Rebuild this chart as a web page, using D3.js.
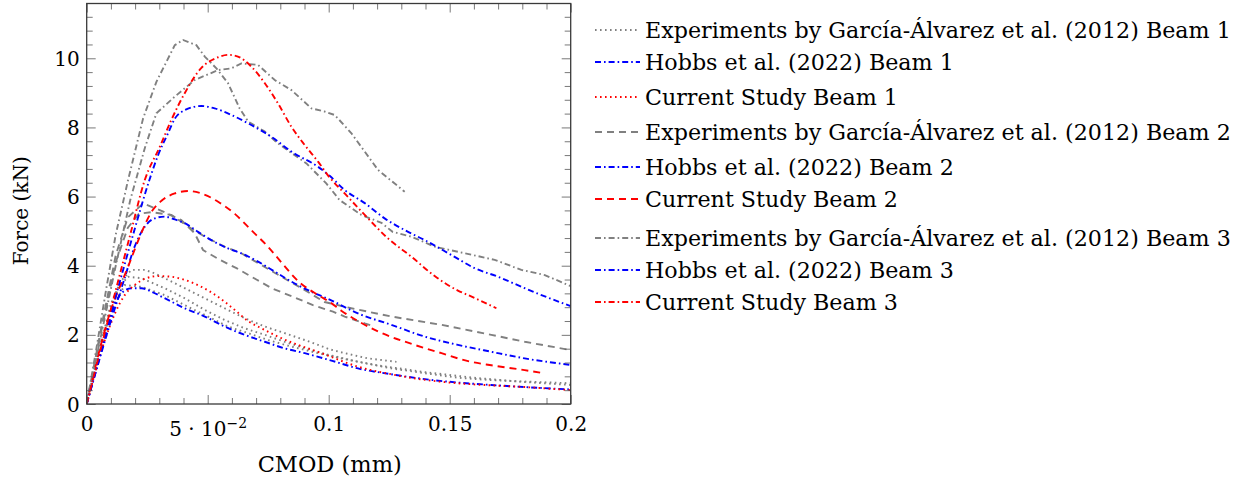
<!DOCTYPE html>
<html><head><meta charset="utf-8">
<script src="https://cdn.jsdelivr.net/npm/d3@7"></script>
<style>
body{margin:0;background:#fff}
svg{display:block}
text{font-family:"DejaVu Serif",serif;fill:#000}
</style>
</head><body>
<svg id="chart" width="1245" height="480"></svg>
<script>
// ---------- data: [CMOD (mm), Force (kN)] ----------
const expBeam1A = [[0,0],[0.005,1.5],[0.01,2.9],[0.014,3.55],[0.0185,3.88],[0.024,3.88],[0.0281,3.78],[0.0336,3.59],[0.0405,3.35],[0.0488,3.06],[0.057,2.77],[0.0653,2.48],[0.0736,2.24],[0.0818,2.05],[0.0901,1.85],[0.0956,1.71],[0.1004,1.58],[0.1066,1.47],[0.1162,1.32],[0.128,1.22]];
const expBeam1B = [[0,0],[0.005,1.5],[0.01,2.8],[0.0135,3.4],[0.0171,3.68],[0.0226,3.64],[0.0322,3.35],[0.0405,3.06],[0.0488,2.72],[0.057,2.43],[0.0653,2.19],[0.0736,2.0],[0.0818,1.8],[0.0901,1.61],[0.0983,1.45],[0.1121,1.22],[0.1259,1.03],[0.1397,0.89],[0.1534,0.76],[0.1672,0.69],[0.181,0.65],[0.2,0.6]];
const expBeam1C = [[0,0],[0.005,1.4],[0.01,2.7],[0.0157,3.44],[0.0226,3.39],[0.0322,3.15],[0.0405,2.86],[0.0501,2.53],[0.0584,2.24],[0.0667,2.05],[0.0749,1.85],[0.0846,1.66],[0.0956,1.47],[0.1066,1.3],[0.12,1.12],[0.14,0.92],[0.16,0.76],[0.18,0.64],[0.2,0.55]];
const hobbsBeam1 = [[0,0],[0.005,1.25],[0.0116,2.86],[0.0143,3.2],[0.0185,3.35],[0.0226,3.35],[0.0267,3.25],[0.0322,3.06],[0.0405,2.77],[0.0488,2.53],[0.057,2.24],[0.0653,2.0],[0.0736,1.8],[0.0818,1.61],[0.0901,1.47],[0.1004,1.27],[0.1121,1.03],[0.1259,0.86],[0.1397,0.72],[0.1534,0.62],[0.1672,0.55],[0.181,0.49],[0.2,0.42]];
const currentBeam1 = [[0,0],[0.008,1.95],[0.0157,3.15],[0.0198,3.44],[0.024,3.62],[0.0295,3.7],[0.035,3.68],[0.0405,3.59],[0.0474,3.39],[0.0543,3.1],[0.0612,2.72],[0.0667,2.4],[0.0722,2.19],[0.079,1.95],[0.0873,1.71],[0.0956,1.51],[0.1004,1.38],[0.1121,1.08],[0.1259,0.86],[0.1397,0.7],[0.1534,0.6],[0.1672,0.54],[0.181,0.49],[0.2,0.4]];

const expBeam2A = [[0,0],[0.006,2.1],[0.012,4.1],[0.017,5.1],[0.0215,5.5],[0.0267,5.55],[0.035,5.47],[0.0419,5.13],[0.0488,4.84],[0.057,4.55],[0.0639,4.36],[0.0722,4.02],[0.0805,3.68],[0.09,3.3],[0.0983,2.95],[0.1094,2.77],[0.1259,2.53],[0.1466,2.29],[0.1672,2.0],[0.181,1.8],[0.2,1.56]];
const expBeam2B = [[0,0],[0.006,2.2],[0.012,4.3],[0.017,5.4],[0.0233,5.8],[0.0302,5.61],[0.0391,5.32],[0.0446,4.94],[0.0481,4.45],[0.055,4.17],[0.0619,3.93],[0.0701,3.6],[0.077,3.33],[0.0853,3.1],[0.0935,2.86],[0.1018,2.67],[0.1066,2.53],[0.1149,2.33],[0.119,2.24]];
const hobbsBeam2 = [[0,0],[0.01,2.4],[0.0155,3.6],[0.0198,4.55],[0.024,5.13],[0.0281,5.37],[0.0322,5.42],[0.0364,5.34],[0.0405,5.23],[0.046,4.98],[0.0515,4.74],[0.0584,4.5],[0.0639,4.36],[0.0708,4.12],[0.0777,3.83],[0.0846,3.54],[0.0921,3.27],[0.1004,3.02],[0.1121,2.62],[0.1259,2.29],[0.1397,1.95],[0.1534,1.71],[0.1672,1.51],[0.181,1.32],[0.2,1.13]];
const currentBeam2 = [[0,0],[0.009,2.5],[0.0171,3.97],[0.0226,4.95],[0.0267,5.55],[0.0309,5.88],[0.0364,6.09],[0.0419,6.16],[0.0474,6.09],[0.0543,5.85],[0.0612,5.5],[0.068,5.03],[0.0749,4.55],[0.0804,4.1],[0.0873,3.56],[0.0956,3.15],[0.1004,2.95],[0.1052,2.7],[0.1121,2.4],[0.1204,2.1],[0.1355,1.71],[0.1466,1.47],[0.1576,1.24],[0.1672,1.12],[0.181,0.98],[0.188,0.9]];

const expBeam3A = [[0,0],[0.004,1.6],[0.008,3.3],[0.012,4.9],[0.0171,6.48],[0.0233,8.26],[0.0288,9.32],[0.0364,10.38],[0.0398,10.53],[0.0453,10.38],[0.0488,10.05],[0.0536,9.71],[0.0584,9.28],[0.0632,8.55],[0.0667,8.17],[0.0736,7.88],[0.079,7.54],[0.0908,6.96],[0.099,6.38],[0.1045,5.9],[0.1135,5.47],[0.1218,5.24],[0.1264,4.98],[0.1342,4.84],[0.1438,4.55],[0.1562,4.36],[0.1686,4.17],[0.1796,3.88],[0.1893,3.73],[0.2,3.41]];
const expBeam3B = [[0,0],[0.006,2.0],[0.012,4.0],[0.018,5.9],[0.024,7.4],[0.0288,8.41],[0.0364,8.89],[0.0446,9.37],[0.0543,9.66],[0.0598,9.71],[0.0639,9.85],[0.0708,9.81],[0.0777,9.37],[0.0846,9.08],[0.0929,8.55],[0.0983,8.46],[0.1025,8.36],[0.1094,7.83],[0.1204,6.77],[0.1314,6.14]];
const hobbsBeam3 = [[0,0],[0.01,2.6],[0.02,5.1],[0.026,6.5],[0.0295,7.2],[0.0336,7.83],[0.0364,8.25],[0.0405,8.5],[0.0474,8.62],[0.0529,8.55],[0.0598,8.36],[0.068,8.07],[0.0763,7.73],[0.0846,7.3],[0.0956,6.86],[0.1004,6.6],[0.1066,6.19],[0.1149,5.81],[0.1231,5.37],[0.1328,4.98],[0.1397,4.74],[0.1507,4.31],[0.1603,3.93],[0.17,3.68],[0.181,3.35],[0.1844,3.25],[0.2,2.83]];
const currentBeam3 = [[0,0],[0.01,2.75],[0.018,4.9],[0.024,6.48],[0.0302,7.44],[0.035,8.22],[0.0405,8.99],[0.0474,9.72],[0.0543,10.03],[0.0584,10.1],[0.0625,10.05],[0.068,9.76],[0.0736,9.28],[0.079,8.7],[0.0846,8.02],[0.0901,7.49],[0.0956,7.01],[0.1004,6.55],[0.1066,6.09],[0.1149,5.47],[0.1245,4.79],[0.1342,4.26],[0.1438,3.7],[0.1534,3.28],[0.1576,3.15],[0.1693,2.77]];

const xTickValues = [0, 0.05, 0.1, 0.15, 0.2];
const xTickLabels = ["0", "5 · 10^−2", "0.1", "0.15", "0.2"];
const yTickValues = [0, 2, 4, 6, 8, 10];
const yTickLabels = ["0", "2", "4", "6", "8", "10"];
const legendLabels = [
  "Experiments by García-Álvarez et al. (2012) Beam 1",
  "Hobbs et al. (2022) Beam 1",
  "Current Study Beam 1",
  "Experiments by García-Álvarez et al. (2012) Beam 2",
  "Hobbs et al. (2022) Beam 2",
  "Current Study Beam 2",
  "Experiments by García-Álvarez et al. (2012) Beam 3",
  "Hobbs et al. (2022) Beam 3",
  "Current Study Beam 3"
];
const xLabel = "CMOD (mm)";
const yLabel = "Force (kN)";

// ---------- styles ----------
const GRAY = "#808080", BLUE = "#0000ff", RED = "#ff0000";
const DOT = "1.6 3.4", DASH = "7 5", DASHDOT = "6 3 1.6 3";
const styles = [
  {color: GRAY, dash: DOT}, {color: BLUE, dash: DASHDOT}, {color: RED, dash: DOT},
  {color: GRAY, dash: DASH}, {color: BLUE, dash: DASHDOT}, {color: RED, dash: DASH},
  {color: GRAY, dash: DASHDOT}, {color: BLUE, dash: DASHDOT}, {color: RED, dash: DASHDOT}
];
const seriesCurves = [
  [expBeam1A, expBeam1B, expBeam1C], [hobbsBeam1], [currentBeam1],
  [expBeam2A, expBeam2B], [hobbsBeam2], [currentBeam2],
  [expBeam3A, expBeam3B], [hobbsBeam3], [currentBeam3]
];
const smoothSeries = [false, true, true, false, true, true, false, true, true];

// ---------- layout ----------
const L = 86.7, R = 570.7, T = 3.5, B = 404;
const x = d3.scaleLinear().domain([0, 0.2]).range([L, R]);
const y = d3.scaleLinear().domain([0, 11.585]).range([B, T]);
const svg = d3.select("#chart");

svg.append("defs").append("clipPath").attr("id", "clip")
  .append("rect").attr("x", L).attr("y", T).attr("width", R - L).attr("height", B - T);

// curves
const plot = svg.append("g").attr("clip-path", "url(#clip)");
seriesCurves.forEach((curves, i) => {
  const line = d3.line().x(d => x(d[0])).y(d => y(d[1]))
    .curve(smoothSeries[i] ? d3.curveMonotoneX : d3.curveLinear);
  curves.forEach(c => {
    plot.append("path").attr("d", line(c)).attr("fill", "none")
      .attr("stroke", styles[i].color).attr("stroke-width", 1.9)
      .attr("stroke-dasharray", styles[i].dash);
  });
});

// ticks
const xMinor = d3.range(0, 0.2001, 0.01).filter(v => !xTickValues.some(m => Math.abs(m - v) < 1e-9));
const yMinor = d3.range(0, 11.5, 0.4).filter(v => !yTickValues.some(m => Math.abs(m - v) < 1e-9));
const tickStyle = g => { g.select(".domain").remove(); g.selectAll("line").attr("stroke", "#555").attr("stroke-width", 0.8); };

svg.append("g").attr("transform", `translate(0,${B})`).call(d3.axisBottom(x).tickValues(xMinor).tickSize(-6).tickFormat("")).call(tickStyle);
svg.append("g").attr("transform", `translate(0,${T})`).call(d3.axisTop(x).tickValues(xMinor).tickSize(-6).tickFormat("")).call(tickStyle);
svg.append("g").attr("transform", `translate(0,${T})`).call(d3.axisTop(x).tickValues(xTickValues).tickSize(-9).tickFormat("")).call(tickStyle);
svg.append("g").attr("transform", `translate(${L},0)`).call(d3.axisLeft(y).tickValues(yMinor).tickSize(-6).tickFormat("")).call(tickStyle);
svg.append("g").attr("transform", `translate(${R},0)`).call(d3.axisRight(y).tickValues(yMinor).tickSize(-6).tickFormat("")).call(tickStyle);
svg.append("g").attr("transform", `translate(${R},0)`).call(d3.axisRight(y).tickValues(yTickValues).tickSize(-9).tickFormat("")).call(tickStyle);

const xAxis = svg.append("g").attr("transform", `translate(0,${B})`)
  .call(d3.axisBottom(x).tickValues(xTickValues).tickSize(-9).tickFormat(() => ""))
  .call(tickStyle);
xAxis.selectAll(".tick text").each(function(d, i) {
  const t = d3.select(this).attr("y", null).attr("dy", null).attr("fill", null)
    .attr("font-size", 20).attr("font-family", null).attr("text-anchor", "middle");
  const lab = xTickLabels[i];
  if (lab.includes("^")) {
    const [base, sup] = lab.split("^");
    t.attr("y", 32);
    t.append("tspan").text(base);
    t.append("tspan").attr("font-size", 14).attr("dy", -8).text(sup);
  } else {
    t.attr("y", 27).text(lab);
  }
});

const yAxis = svg.append("g").attr("transform", `translate(${L},0)`)
  .call(d3.axisLeft(y).tickValues(yTickValues).tickSize(-9).tickFormat((d, i) => yTickLabels[i]))
  .call(tickStyle);
yAxis.selectAll(".tick text").attr("x", -7).attr("dy", "0.35em").attr("font-size", 20).attr("font-family", null).attr("fill", null);

// frame
svg.append("rect").attr("x", L).attr("y", T).attr("width", R - L).attr("height", B - T)
  .attr("fill", "none").attr("stroke", "#3a3a3a").attr("stroke-width", 1.3);

// axis labels
svg.append("text").attr("x", (L + R) / 2 + 1).attr("y", 472).attr("text-anchor", "middle").attr("font-size", 22.5).text(xLabel);
svg.append("text").attr("transform", `translate(28,${(T + B) / 2 + 7}) rotate(-90)`).attr("text-anchor", "middle").attr("font-size", 20).text(yLabel);

// legend
const legendRows = [30, 62, 97, 132, 167, 199, 238, 270, 302];
const lg = svg.append("g");
legendLabels.forEach((lab, i) => {
  lg.append("line").attr("x1", 595).attr("x2", 640).attr("y1", legendRows[i]).attr("y2", legendRows[i])
    .attr("stroke", styles[i].color).attr("stroke-width", 1.9).attr("stroke-dasharray", styles[i].dash);
  lg.append("text").attr("x", 645).attr("y", legendRows[i]).attr("dy", "0.35em").attr("font-size", 22.2).text(lab);
});
</script>
</body></html>
